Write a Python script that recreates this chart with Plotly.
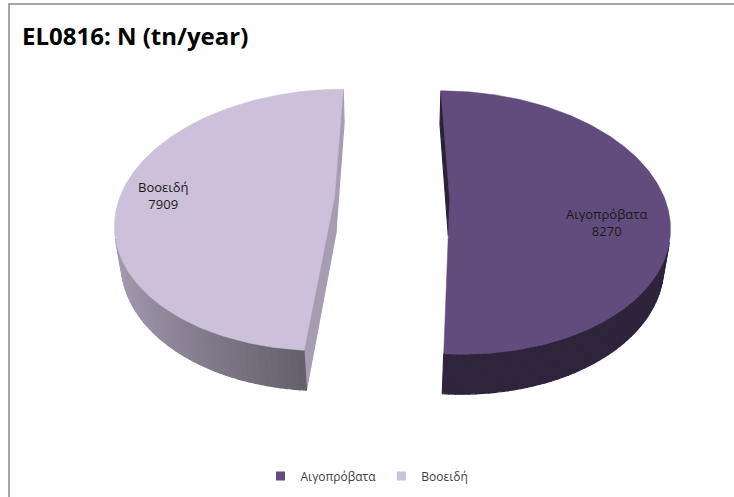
import numpy as np
import plotly.graph_objects as go

# ---- data ----
categories = ["Αιγοπρόβατα", "Βοοειδή"]
values = [8270, 7909]
title_text = "EL0816: N (tn/year)"

# ---- style ----
slice_colors = ["#624C7D", "#CCC0DA"]
cut_face_shade = [0.45, 0.82]          # brightness of the radial cut faces
label_nudge = [(5, 20), (-22, 2)]      # pixel nudges for slice labels
FONT = "'Open Sans', 'Noto Sans', sans-serif"

# ---- 3D view (works directly in pixel space) ----
W, H = 734, 497
PHI = np.radians(33.9)     # viewing elevation
DIST = 4.69                # camera distance (in pie radii)
FOCAL = 1069.0
XSCALE = 0.943             # horizontal squeeze of the projected pie
CX, CY = 392.0, 198.0      # screen position of pie centre
THICK = 0.198              # pie thickness
EXPLODE = 0.268            # slice pull-out distance
LABEL_R = 0.7

S, C = np.sin(PHI), np.cos(PHI)
CAM = np.array([0.0, -DIST * C, DIST * S])


def project(X, Y, Z):
    X, Y, Z = np.asarray(X, float), np.asarray(Y, float), np.asarray(Z, float)
    depth = Y * C + DIST - Z * S
    w = Y * S + Z * C
    return CX + XSCALE * FOCAL * X / depth, CY - FOCAL * w / depth, depth


def hex_rgb(h):
    h = h.lstrip("#")
    return [int(h[i:i + 2], 16) for i in (0, 2, 4)]


def shade(hexcol, f):
    r, g, b = [min(255, int(round(v * f))) for v in hex_rgb(hexcol)]
    return f"rgb({r},{g},{b})"


def wall_factor(nx):
    return 0.47 + 0.36 * max(0.0, -nx)


total = float(sum(values))
polys = []      # (depth, xs, ys, color) for side walls / cut faces
tops = []
label_pos = []

start = 0.0
for i, (cat, val) in enumerate(zip(categories, values)):
    sweep = 2 * np.pi * val / total
    a0, a1 = start, start + sweep
    start = a1
    mid = 0.5 * (a0 + a1)
    ox, oy = EXPLODE * np.sin(mid), EXPLODE * np.cos(mid)
    base = slice_colors[i]

    # outer side wall, split in thin bands for smooth shading
    n = max(8, int(np.degrees(sweep) / 1.5))
    th = np.linspace(a0, a1, n + 1)
    for k in range(n):
        t0, t1 = th[k], th[k + 1]
        tm = 0.5 * (t0 + t1)
        nx, ny = np.sin(tm), np.cos(tm)
        P = np.array([ox + nx, oy + ny, -THICK / 2])
        if nx * (CAM[0] - P[0]) + ny * (CAM[1] - P[1]) <= 0:
            continue
        X = [ox + np.sin(t0), ox + np.sin(t1), ox + np.sin(t1), ox + np.sin(t0)]
        Y = [oy + np.cos(t0), oy + np.cos(t1), oy + np.cos(t1), oy + np.cos(t0)]
        Z = [0, 0, -THICK, -THICK]
        xs, ys, d = project(X, Y, Z)
        polys.append((d.mean(), xs, ys, shade(base, wall_factor(nx))))

    # radial cut faces
    for a, sign in ((a0, -1), (a1, 1)):
        nrm = np.array([sign * np.cos(a), -sign * np.sin(a)])
        X = [ox, ox + np.sin(a), ox + np.sin(a), ox]
        Y = [oy, oy + np.cos(a), oy + np.cos(a), oy]
        Z = [0, 0, -THICK, -THICK]
        P = np.array([np.mean(X), np.mean(Y)])
        if nrm[0] * (CAM[0] - P[0]) + nrm[1] * (CAM[1] - P[1]) <= 0:
            continue
        xs, ys, d = project(X, Y, Z)
        polys.append((d.mean(), xs, ys, shade(base, cut_face_shade[i])))

    # top face
    arc = np.linspace(a0, a1, 200)
    X = np.concatenate([[ox], ox + np.sin(arc), [ox]])
    Y = np.concatenate([[oy], oy + np.cos(arc), [oy]])
    xs, ys, _ = project(X, Y, np.zeros_like(X))
    tops.append((xs, ys, base))

    lx, ly, _ = project(ox + LABEL_R * np.sin(mid), oy + LABEL_R * np.cos(mid), 0.0)
    label_pos.append((float(lx) + label_nudge[i][0], float(ly) + label_nudge[i][1]))

fig = go.Figure()

for d, xs, ys, col in sorted(polys, key=lambda p: -p[0]):
    fig.add_trace(go.Scatter(
        x=list(xs) + [xs[0]], y=list(ys) + [ys[0]], mode="lines",
        fill="toself", fillcolor=col, line=dict(color=col, width=1.2),
        hoverinfo="skip", showlegend=False))

for (xs, ys, col), cat, val in zip(tops, categories, values):
    fig.add_trace(go.Scatter(
        x=xs, y=ys, mode="lines", fill="toself", fillcolor=col,
        line=dict(color=col, width=0.5), name=cat,
        hovertemplate=f"{cat}: {val}<extra></extra>", showlegend=False))

# legend entries
for cat, col in zip(categories, slice_colors):
    fig.add_trace(go.Scatter(
        x=[None], y=[None], mode="markers", name=cat,
        marker=dict(symbol="square", size=9, color=col)))

for (lx, ly), cat, val in zip(label_pos, categories, values):
    fig.add_annotation(x=lx, y=ly, text=f"{cat}<br>{val}", showarrow=False,
                       font=dict(family=FONT, size=13, color="#1a1a1a"),
                       xanchor="center", yanchor="middle", align="center")

fig.add_annotation(x=20, y=35, text=f"<b>{title_text}</b>", showarrow=False,
                   xanchor="left", yanchor="middle",
                   font=dict(family=FONT, size=24, color="#000000"))

# chart-area frame
fig.add_shape(type="rect", x0=9, y0=4, x1=W + 20, y1=H + 20,
              line=dict(color="#8a8a8a", width=1.5), layer="below")

fig.update_layout(
    width=W, height=H, autosize=False,
    margin=dict(l=0, r=0, t=0, b=0),
    paper_bgcolor="white", plot_bgcolor="white",
    xaxis=dict(range=[0, W], visible=False, fixedrange=True),
    yaxis=dict(range=[H, 0], visible=False, fixedrange=True),
    legend=dict(orientation="h", x=0.5, xanchor="center",
                y=1 - 476 / H, yanchor="middle",
                font=dict(family=FONT, size=12, color="#404040"),
                itemwidth=30, bgcolor="rgba(0,0,0,0)"),
)

fig.write_html("out.html")
